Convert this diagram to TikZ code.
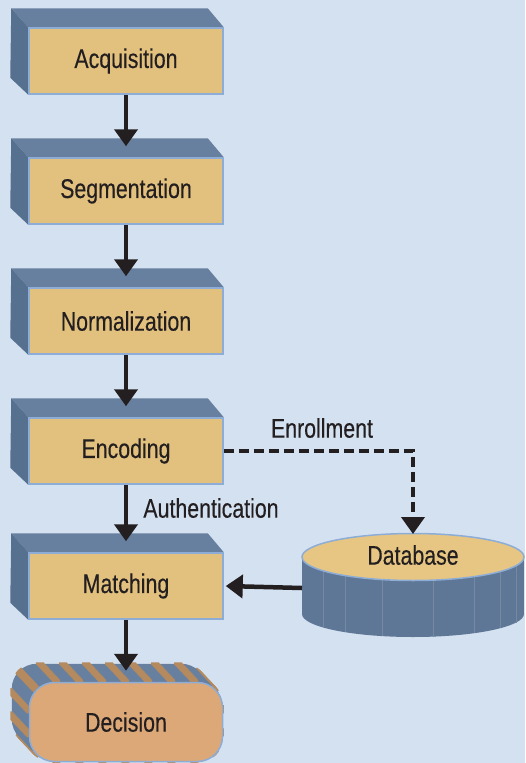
\documentclass[tikz,border=0pt]{standalone}
\usepackage{fontspec}
\setmainfont{Liberation Sans}[FakeStretch=0.79,FakeBold=0.3]
\usetikzlibrary{arrows.meta,calc,backgrounds}
\definecolor{bgblue}{HTML}{D4E1F1}
\definecolor{facetan}{HTML}{E2C17F}
\definecolor{topblue}{HTML}{68809F}
\definecolor{sideblue}{HTML}{56708F}
\definecolor{rimblue}{HTML}{8DADD6}
\definecolor{dectan}{HTML}{DCA877}
\definecolor{stripebrown}{HTML}{B48A5E}
\definecolor{dbtop}{HTML}{E7C683}
\definecolor{dbside}{HTML}{5F7796}
\definecolor{seamgray}{HTML}{7689A0}
\definecolor{inkdark}{HTML}{231F20}
\tikzset{
  stagebox/.style={draw=rimblue, line width=1.5pt, fill=facetan, minimum width=194pt,
    minimum height=66pt, inner sep=0pt, text=inkdark},
  decbox/.style={stagebox, fill=dectan, rounded corners=25pt, minimum width=193pt,
    minimum height=79pt},
  flow/.style={draw=inkdark, line width=4.5pt, -{Triangle[length=17pt,width=23pt]}},
  enroll/.style={flow, line width=4pt, dash pattern=on 10pt off 5pt},
  lbl/.style={text=inkdark, inner sep=0pt}
}
\begin{document}
\begin{tikzpicture}[x=1pt, y=-1pt, font=\fontsize{27}{30}\selectfont]
\useasboundingbox (0,0) rectangle (525,763);
\fill[dbside] (302,557) rectangle (524,614);
\fill[dbside] (413,614) ellipse[x radius=111, y radius=23];
\foreach \lx in {323,345,382,433,474,500,516}
  \draw[seamgray, line width=0.6pt] (\lx,557) -- (\lx,{614+23*sqrt(1-((\lx-413)/111)^2)});
\filldraw[fill=dbtop, draw=rimblue, line width=1.5pt] (413,557) ellipse[x radius=111, y radius=23.5];
\node[lbl] (db) at (413,555) {Database};
\coordinate (dbleft) at (302,588);
\coordinate (dbtop) at (413,534);

\node[stagebox] (acq) at (126,61) {Acquisition};
\node[stagebox] (seg) at (126,191) {Segmentation};
\node[stagebox] (norm) at (126,321) {Normalization};
\node[stagebox] (enc) at (126,451) {Encoding};
\node[stagebox] (match) at (126,586) {Matching};
\node[decbox] (dec) at (126,722) {Decision};

\begin{scope}[on background layer]
\fill[bgblue] (0,0) rectangle (525,763);
\foreach \n in {acq,seg,norm,enc,match}{
  \fill[topblue] (\n.north west) -- ++(-17,-19) -- ($(\n.north east)+(-16,-19)$) -- (\n.north east) -- cycle;
  \fill[sideblue] (\n.north west) -- ++(-17,-19) -- ($(\n.south west)+(-18,-17)$) -- (\n.south west) -- cycle;
}
\foreach \t in {18,...,1}
  \filldraw[fill=topblue, draw=stripebrown, line width=3pt, dash pattern=on 8pt off 15pt, rounded corners=25pt]
    ($(dec.south west)+(-\t*17/18,-\t)$) rectangle ($(dec.north east)+(-\t*17/18,-\t)$);
\end{scope}

\draw[flow] (acq) -- ($(seg.north)+(0,-11)$);
\draw[flow] (seg) -- ($(norm.north)+(0,-11)$);
\draw[flow] (norm) -- ($(enc.north)+(0,-11)$);
\draw[flow] (enc) -- ($(match.north)+(0,-11)$);
\draw[flow] (match) -- ($(dec.north)+(0,-11)$);
\draw[flow] (dbleft) -- ($(match.east)+(2,0)$);
\draw[enroll] (enc.east) -| (dbtop);
\node[lbl] (enrl) at (322,428) {Enrollment};
\node[lbl] (auth) at (211,508) {Authentication};
\end{tikzpicture}
\end{document}
